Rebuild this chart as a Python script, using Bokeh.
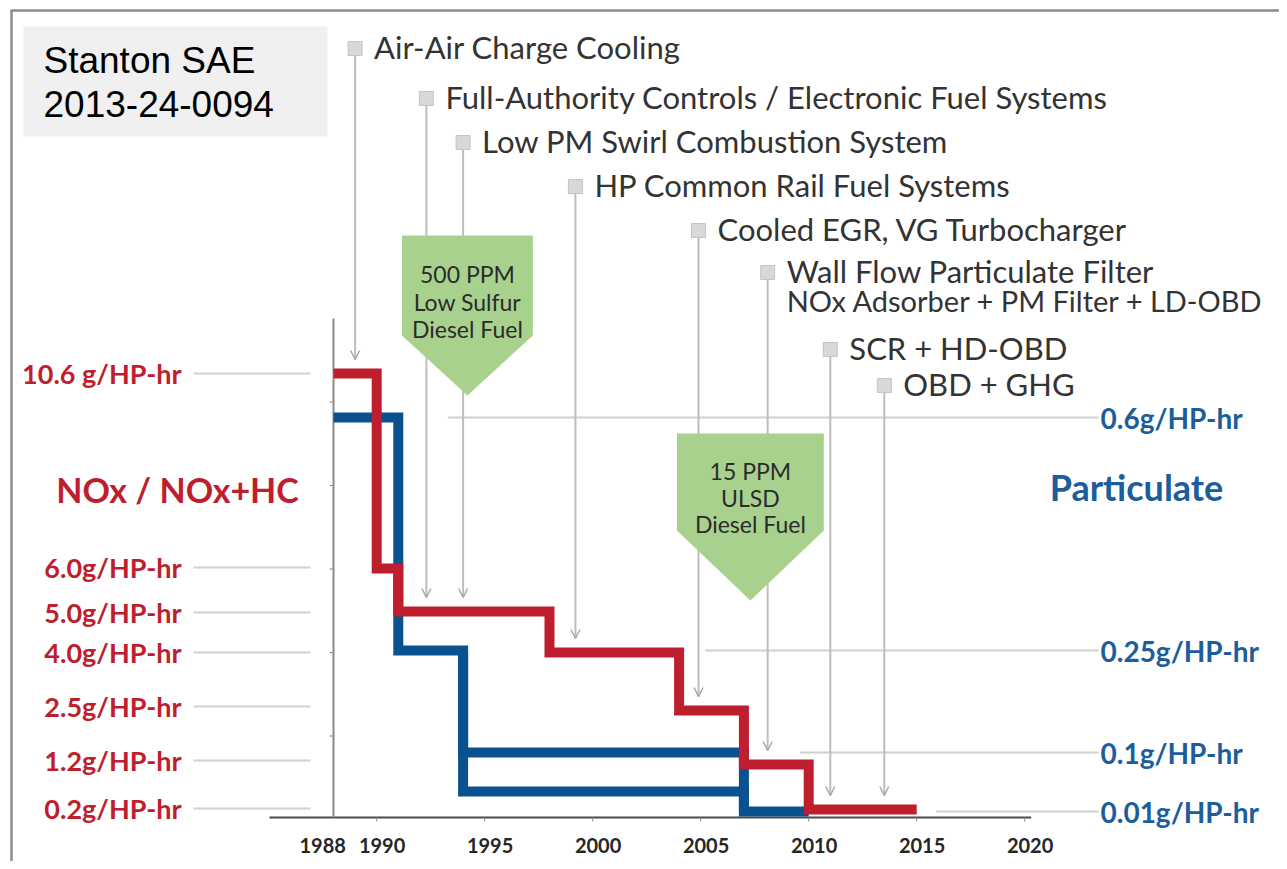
from bokeh.plotting import figure
from bokeh.models import Range1d, Arrow, OpenHead, ColumnDataSource
from bokeh.core.properties import value
from bokeh.embed import file_html
from bokeh.resources import INLINE

# ---------------- data ----------------
nox_years = [1988, 1990, 1991, 1998, 2004, 2007, 2010, 2015]
nox_limits = [10.6, 6.0, 5.0, 4.0, 2.5, 1.2, 0.2]
nox_labels = ["10.6 g/HP-hr", "6.0g/HP-hr", "5.0g/HP-hr", "4.0g/HP-hr",
              "2.5g/HP-hr", "1.2g/HP-hr", "0.2g/HP-hr"]

pm_years = [1988, 1991, 1994, 2007, 2010]
pm_limits = [0.6, 0.25, 0.1, 0.01]
pm_bus_years = [1994, 2007]
pm_bus_limit = 0.05
pm_label_levels = [0.6, 0.25, 0.1, 0.01]
pm_labels = ["0.6g/HP-hr", "0.25g/HP-hr", "0.1g/HP-hr", "0.01g/HP-hr"]
pm_label_line_start = [1993.3, 2005.2, 2009.6, 2015.9]

tech_names = ["Air-Air Charge Cooling",
              "Full-Authority Controls / Electronic Fuel Systems",
              "Low PM  Swirl Combustion System",
              "HP Common Rail Fuel Systems",
              "Cooled EGR, VG Turbocharger",
              "Wall Flow Particulate Filter\nNOx Adsorber + PM Filter + LD-OBD",
              "SCR + HD-OBD",
              "OBD + GHG"]
tech_years = [1989.0, 1992.3, 1994.0, 1999.2, 2004.9, 2008.1, 2011.0, 2013.5]
tech_targets = [10.6, 5.0, 5.0, 4.0, 2.5, 1.2, 0.2, 0.2]

fuel_texts = [["500 PPM", "Low Sulfur", "Diesel Fuel"],
              ["15 PPM", "ULSD", "Diesel Fuel"]]
fuel_years = [1994.2, 2007.3]

tick_years = [1988, 1990, 1995, 2000, 2005, 2010, 2015, 2020]
tick_labels = ["1988", "1990", "1995", "2000", "2005", "2010", "2015", "2020"]

# ---------------- layout (axis positions, px from top) ----------------
NOX_POS = dict(zip(nox_limits, [373, 568, 611, 652, 710, 764, 809]))
NOX_LABEL_POS = dict(zip(nox_limits, [373, 567, 612, 652, 706, 760, 808]))
PM_POS = {0.6: 417, 0.25: 650, 0.1: 752, 0.05: 791, 0.01: 811}
TECH_ROW = [48, 98, 142, 186, 230, 272, 349, 385]
FUEL_GEOM = [dict(half=3.03, top=235, shoulder=335, tip=395, text_y=[273, 301, 328]),
             dict(half=3.40, top=433, shoulder=530, tip=600, text_y=[470, 497, 523])]

W, H = 1279, 861
PXY = 21.6                      # pixels per year
X0 = 1988 - 333 / PXY           # year at left canvas edge


def sx(px):
    return X0 + px / PXY


RED = "#be1e2d"
BLUE = "#0a5190"
BLUE_T = "#1c5e9c"
GRAY = "#bdbdbd"
FONT = value("Lato")

p = figure(width=W, height=H, output_backend="svg", toolbar_location=None,
           x_range=Range1d(X0, X0 + W / PXY), y_range=Range1d(H, 0),
           min_border=0, outline_line_color=None)
p.axis.visible = False
p.grid.visible = False
p.background_fill_color = "white"

# page frame
p.line([sx(10), sx(1300)], [10, 10], line_color="#8c8c8c", line_width=2.5)
p.line([sx(11), sx(11)], [10, 900], line_color="#8c8c8c", line_width=2.5)

# reference box
p.quad(left=[sx(23)], right=[sx(327)], top=[26], bottom=[136],
       fill_color="#f0f0f0", line_color=None)
p.text(x=[sx(43), sx(43)], y=[60, 103], text=["Stanton SAE", "2013-24-0094"],
       text_font=value("Liberation Sans"), text_font_size="37px",
       text_color="black", text_baseline="middle")

# axes
p.line([sx(269), 2020.3], [817, 817], line_color="#4a4a4a", line_width=2)
p.line([1988, 1988], [318, 817], line_color="#8a8a8a", line_width=2)
for t in tick_years[1:]:
    p.line([t, t], [817, 821], line_color="#8a8a8a", line_width=1)
for k in range(1, 6):
    yk = 318 + k * 83.5
    p.line([sx(329), 1988], [yk, yk], line_color="#8a8a8a", line_width=1)

lx = [t + 0.25 for t in tick_years]
lx[0] = tick_years[0] - 0.5
p.text(x=lx, y=[845] * len(tick_years), text=tick_labels, text_font=FONT,
       text_font_size="20px", text_font_style="bold", text_color="#262626",
       text_align="center", text_baseline="middle")

# NOx scale labels + leader lines
for lvl in nox_limits:
    y = NOX_LABEL_POS[lvl]
    p.line([sx(193), sx(310)], [y, y], line_color="#d0d0d0", line_width=2)
p.text(x=[sx(181)] * len(nox_limits), y=[NOX_LABEL_POS[l] for l in nox_limits],
       text=nox_labels, text_font=FONT, text_font_size="27px",
       text_font_style="bold", text_color=RED, text_align="right",
       text_baseline="middle")
p.text(x=[sx(177)], y=[489], text=["NOx / NOx+HC"], text_font=FONT,
       text_font_size="34px", text_font_style="bold", text_color=RED,
       text_align="center", text_baseline="middle")

# PM scale labels + leader lines
for lvl, st in zip(pm_label_levels, pm_label_line_start):
    y = PM_POS[lvl]
    p.line([st, sx(1098)], [y, y], line_color="#d0d0d0", line_width=2)
p.text(x=[sx(1100)] * len(pm_labels), y=[PM_POS[l] for l in pm_label_levels],
       text=pm_labels, text_font=FONT, text_font_size="28px",
       text_font_style="bold", text_color=BLUE_T, text_align="left",
       text_baseline="middle")
p.text(x=[sx(1136)], y=[486], text=["Particulate"], text_font=FONT,
       text_font_size="36px", text_font_style="bold", text_color=BLUE_T,
       text_align="center", text_baseline="middle")

# technology call-outs
arrow_src = ColumnDataSource(dict(
    x=tech_years,
    y0=[r + 6 for r in TECH_ROW],
    y1=[NOX_POS[t] - 14 for t in tech_targets]))
p.segment(x0="x", y0="y0", x1="x", y1="y1", source=arrow_src,
          line_color=GRAY, line_width=2)
p.add_layout(Arrow(end=OpenHead(size=9, line_color="#a8a8a8", line_width=1.5),
                   line_alpha=0, x_start="x", y_start="y0", x_end="x",
                   y_end="y1", source=arrow_src))
p.scatter(tech_years, TECH_ROW, marker="square", size=14,
          fill_color="#d8d8d8", line_color="#c4c4c4", line_width=1)
tx, ty, tt, ts = [], [], [], []
for yr, row, name in zip(tech_years, TECH_ROW, tech_names):
    for j, line in enumerate(name.split("\n")):
        tx.append(yr + 0.88)
        ty.append(row - 2 + j * 30)
        tt.append(line)
        ts.append("31px" if j == 0 else "29px")
p.text(x=tx, y=ty, text=tt, text_font=FONT, text_font_size=ts,
       text_color="#333333", text_baseline="middle")

# fuel arrows
for yr, g, lines in zip(fuel_years, FUEL_GEOM, fuel_texts):
    xs = [yr - g["half"], yr + g["half"], yr + g["half"], yr, yr - g["half"]]
    ys = [g["top"], g["top"], g["shoulder"], g["tip"], g["shoulder"]]
    p.patch(xs, ys, fill_color="#a9d18e", line_color=None)
    p.text(x=[yr] * 3, y=g["text_y"], text=lines, text_font=FONT,
           text_font_size="23px", text_color="#2b2b2b", text_align="center",
           text_baseline="middle")

# PM steps (blue)
bx, by = [], []
for i, lim in enumerate(pm_limits):
    bx += [pm_years[i], pm_years[i + 1]]
    by += [PM_POS[lim]] * 2
p.line(bx, by, line_color=BLUE, line_width=10, line_join="miter")
p.line([pm_bus_years[0], pm_bus_years[0], pm_bus_years[1], pm_bus_years[1]],
       [PM_POS[pm_limits[1]], PM_POS[pm_bus_limit], PM_POS[pm_bus_limit],
        PM_POS[pm_limits[-1]]],
       line_color=BLUE, line_width=10, line_join="miter")

# NOx steps (red)
rx, ry = [], []
for i, lim in enumerate(nox_limits):
    rx += [nox_years[i], nox_years[i + 1]]
    ry += [NOX_POS[lim]] * 2
p.line(rx, ry, line_color=RED, line_width=10, line_join="miter")

open("out.html", "w").write(file_html(p, INLINE))
